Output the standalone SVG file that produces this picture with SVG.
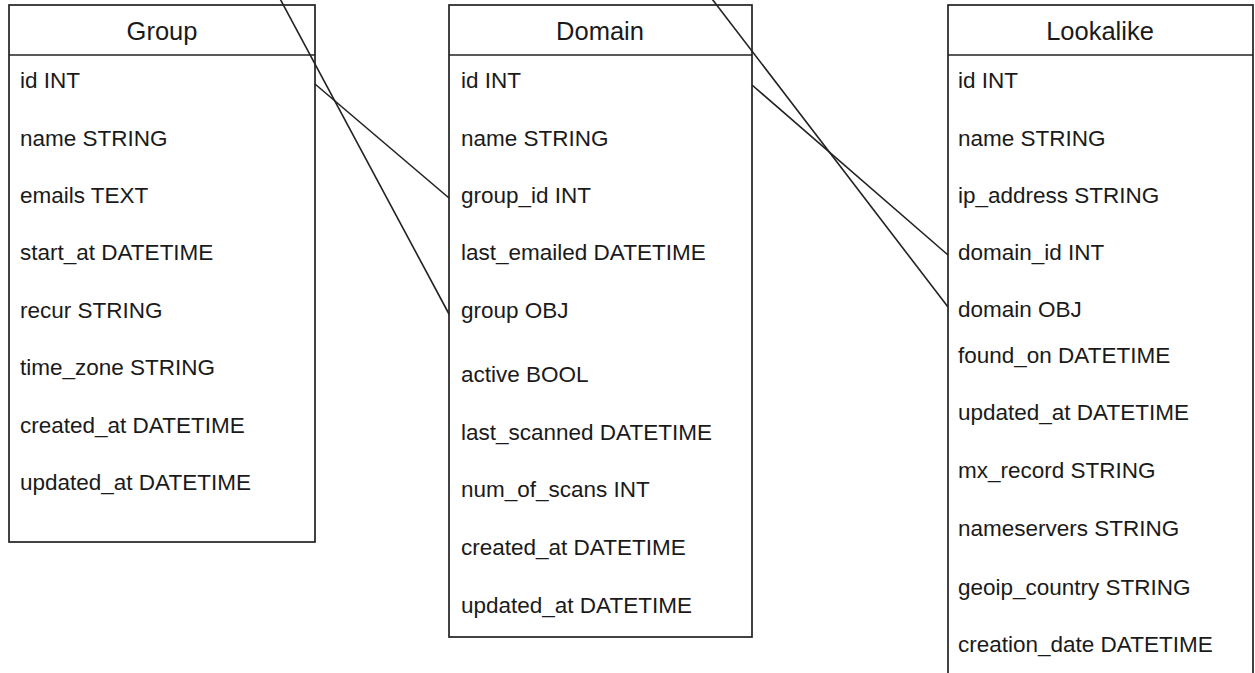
<svg xmlns="http://www.w3.org/2000/svg" width="1255" height="673" viewBox="0 0 1255 673">
<style>
.box{fill:#fff;stroke:#222;stroke-width:1.7}
.sep{stroke:#222;stroke-width:1.7}
.hd{font-family:"Liberation Sans",Arial,sans-serif;font-size:25.5px;fill:#1a1a1a;text-anchor:middle}
.f{font-family:"Liberation Sans",Arial,sans-serif;font-size:22.5px;fill:#1a1a1a}
.c{stroke:#222;stroke-width:1.6;fill:none}
</style>
<rect width="1255" height="673" fill="#fff"/>
<g id="group">
<rect class="box" x="9" y="5" width="306" height="537"/>
<line class="sep" x1="9" y1="55" x2="315" y2="55"/>
<text class="hd" x="162" y="40">Group</text>
<text class="f" x="20" y="88">id INT</text>
<text class="f" x="20" y="146">name STRING</text>
<text class="f" x="20" y="203">emails TEXT</text>
<text class="f" x="20" y="260">start_at DATETIME</text>
<text class="f" x="20" y="318">recur STRING</text>
<text class="f" x="20" y="375">time_zone STRING</text>
<text class="f" x="20" y="433">created_at DATETIME</text>
<text class="f" x="20" y="490">updated_at DATETIME</text>
</g>
<g id="domain">
<rect class="box" x="449" y="5" width="303" height="632"/>
<line class="sep" x1="449" y1="55" x2="752" y2="55"/>
<text class="hd" x="600" y="40">Domain</text>
<text class="f" x="461" y="88">id INT</text>
<text class="f" x="461" y="146">name STRING</text>
<text class="f" x="461" y="203">group_id INT</text>
<text class="f" x="461" y="260">last_emailed DATETIME</text>
<text class="f" x="461" y="318">group OBJ</text>
<text class="f" x="461" y="382">active BOOL</text>
<text class="f" x="461" y="440">last_scanned DATETIME</text>
<text class="f" x="461" y="497">num_of_scans INT</text>
<text class="f" x="461" y="555">created_at DATETIME</text>
<text class="f" x="461" y="613">updated_at DATETIME</text>
</g>
<g id="lookalike">
<rect class="box" x="948" y="5" width="305" height="690"/>
<line class="sep" x1="948" y1="55" x2="1253" y2="55"/>
<text class="hd" x="1100" y="40">Lookalike</text>
<text class="f" x="958" y="88">id INT</text>
<text class="f" x="958" y="146">name STRING</text>
<text class="f" x="958" y="203">ip_address STRING</text>
<text class="f" x="958" y="260">domain_id INT</text>
<text class="f" x="958" y="317">domain OBJ</text>
<text class="f" x="958" y="363">found_on DATETIME</text>
<text class="f" x="958" y="420">updated_at DATETIME</text>
<text class="f" x="958" y="478">mx_record STRING</text>
<text class="f" x="958" y="536">nameservers STRING</text>
<text class="f" x="958" y="595">geoip_country STRING</text>
<text class="f" x="958" y="652">creation_date DATETIME</text>
</g>
<g id="connectors">
<line class="c" x1="278" y1="-5" x2="449" y2="314"/>
<line class="c" x1="315" y1="84" x2="449" y2="198"/>
<line class="c" x1="709" y1="-5" x2="948" y2="307"/>
<line class="c" x1="752" y1="85" x2="948" y2="255"/>
</g>
</svg>
